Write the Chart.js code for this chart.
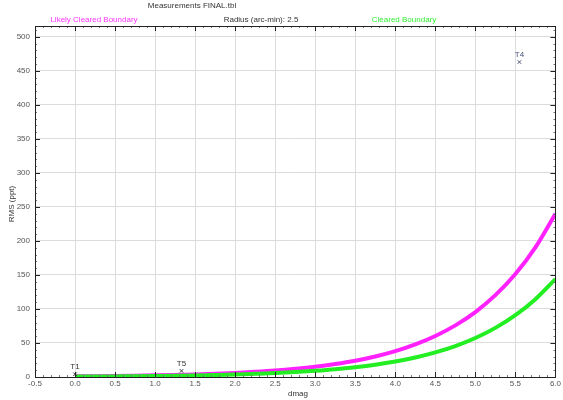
<!DOCTYPE html>
<html>
<head>
<meta charset="utf-8">
<script src="https://cdn.jsdelivr.net/npm/chart.js@4.4.1/dist/chart.umd.min.js"></script>
<style>
  html, body { margin: 0; padding: 0; background: #fff; }
</style>
</head>
<body>
<canvas id="chart" width="563" height="400"></canvas>
<script>
// values
const dmag = [0, 0.25, 0.5, 0.75, 1, 1.25, 1.5, 1.75, 2, 2.25, 2.5, 2.75, 3,
  3.25, 3.5, 3.75, 4, 4.25, 4.5, 4.75, 5, 5.25, 5.5, 5.75, 6];
const likelyCleared = [0.95, 1.2, 1.5, 1.9, 2.4, 3.0, 3.8, 4.8, 6.0, 7.6, 9.5, 12.0, 15.1,
  19.1, 24.0, 30.2, 38.0, 47.9, 60.3, 75.9, 95.5, 120.3, 151.4, 190.6, 240];
const cleared = [0.57, 0.7, 0.9, 1.1, 1.4, 1.8, 2.3, 2.9, 3.6, 4.6, 5.7, 7.2, 9.1,
  11.4, 14.4, 18.1, 22.8, 28.7, 36.2, 45.5, 57.3, 72.2, 90.9, 114.4, 144];
const targetNames = ["T1", "T5", "T4"];
const targetDmag = [0.0, 1.33, 5.55];
const targetRms = [4, 9, 463];

const FONT = "Liberation Sans, Arial, sans-serif";

function toPoints(xs, ys) {
  return xs.map(function(x, i) { return { x: x, y: ys[i] }; });
}

// frame, inward tick marks, header texts and target labels
const decorations = {
  id: "decorations",
  afterDatasetsDraw(chart) {
    const ctx = chart.ctx;
    const a = chart.chartArea;
    const xs = chart.scales.x;
    const ys = chart.scales.y;
    ctx.save();

    // tick marks, pointing into the plot on all four sides
    for (let i = -5; i <= 60; i++) {
      const px = Math.round(xs.getPixelForValue(i / 10)) + 0.5;
      const major = i % 5 === 0;
      const len = major ? 5 : 2;
      ctx.strokeStyle = major ? "#222" : "#777";
      ctx.lineWidth = 1;
      ctx.beginPath();
      ctx.moveTo(px, a.bottom); ctx.lineTo(px, a.bottom - len);
      ctx.moveTo(px, a.top); ctx.lineTo(px, a.top + len);
      ctx.stroke();
    }
    for (let v = 0; v <= 510; v += 10) {
      const py = Math.round(ys.getPixelForValue(v)) + 0.5;
      const major = v % 50 === 0;
      const len = major ? 5 : 2;
      ctx.strokeStyle = major ? "#222" : "#777";
      ctx.beginPath();
      ctx.moveTo(a.left, py); ctx.lineTo(a.left + len, py);
      ctx.moveTo(a.right, py); ctx.lineTo(a.right - len, py);
      ctx.stroke();
    }

    // frame
    ctx.strokeStyle = "#222";
    ctx.strokeRect(Math.round(a.left) + 0.5, Math.round(a.top) + 0.5,
      Math.round(a.right - a.left), Math.round(a.bottom - a.top));

    // target labels above their markers
    const meta = chart.getDatasetMeta(0);
    ctx.font = "8px " + FONT;
    ctx.textAlign = "center";
    ctx.textBaseline = "bottom";
    meta.data.forEach(function(pt, i) {
      ctx.fillStyle = i === 2 ? "#4a5078" : "#333";
      ctx.fillText(targetNames[i], pt.x, pt.y - 3);
    });

    // header lines
    ctx.textBaseline = "middle";
    ctx.fillStyle = "#333";
    ctx.fillText("Measurements FINAL.tbl", 192, 6);
    ctx.fillStyle = "#ff33ff";
    ctx.fillText("Likely Cleared Boundary", 94, 20);
    ctx.fillStyle = "#333";
    ctx.fillText("Radius (arc-min): 2.5", 261, 20);
    ctx.fillStyle = "#33ee33";
    ctx.fillText("Cleared Boundary", 404, 20);

    // axis titles
    ctx.fillStyle = "#333";
    ctx.fillText("dmag", 298, 394);
    ctx.translate(12, 204);
    ctx.rotate(-Math.PI / 2);
    ctx.fillText("RMS (ppt)", 0, 0);
    ctx.restore();
  }
};

new Chart(document.getElementById("chart"), {
  type: "scatter",
  data: {
    datasets: [
      {
        label: "Targets",
        data: toPoints(targetDmag, targetRms),
        pointStyle: "crossRot",
        pointRadius: 2.5,
        borderColor: ["#333", "#333", "#4a5078"],
        borderWidth: 1,
        showLine: false,
      },
      {
        label: "Cleared Boundary",
        data: toPoints(dmag, cleared),
        showLine: true,
        borderColor: "#22ee22",
        borderWidth: 4,
        pointRadius: 0,
        cubicInterpolationMode: "monotone",
      },
      {
        label: "Likely Cleared Boundary",
        data: toPoints(dmag, likelyCleared),
        showLine: true,
        borderColor: "#ff22ff",
        borderWidth: 4,
        pointRadius: 0,
        cubicInterpolationMode: "monotone",
      },
    ],
  },
  options: {
    responsive: false,
    animation: false,
    devicePixelRatio: 1,
    layout: { padding: { top: 26, right: 5, left: 0, bottom: 0 } },
    plugins: {
      legend: { display: false },
      tooltip: { enabled: false },
    },
    scales: {
      x: {
        type: "linear",
        min: -0.5,
        max: 6.0,
        afterFit: function(s) { s.height = 23; },
        grid: { color: "#dcdcdc", drawTicks: false },
        border: { display: false },
        ticks: {
          stepSize: 0.5,
          padding: 2,
          color: "#555",
          font: { family: FONT, size: 8 },
          maxRotation: 0,
          callback: function(v) { return Number(v).toFixed(1); },
        },
      },
      y: {
        type: "linear",
        min: 0,
        max: 516,
        afterFit: function(s) { s.width = 35; },
        afterBuildTicks: function(s) {
          s.ticks = s.ticks.filter(function(t) { return t.value % 50 === 0; });
        },
        grid: { color: "#dcdcdc", drawTicks: false },
        border: { display: false },
        ticks: {
          stepSize: 50,
          padding: 5,
          color: "#555",
          font: { family: FONT, size: 8 },
        },
      },
    },
  },
  plugins: [decorations],
});
</script>
</body>
</html>
